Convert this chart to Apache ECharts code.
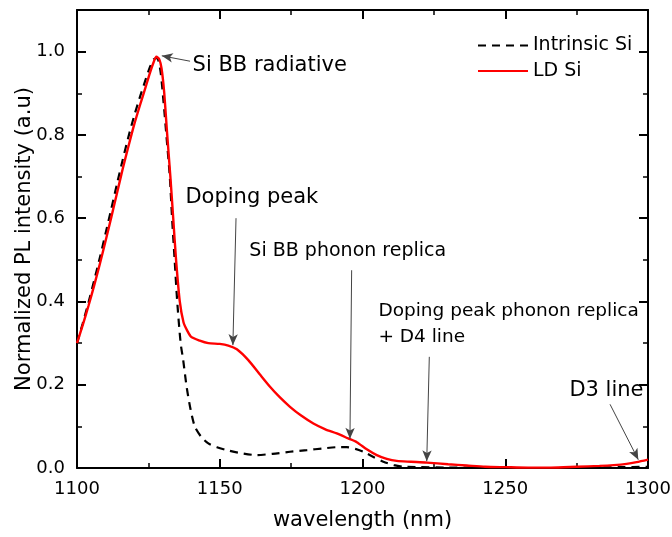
<!DOCTYPE html>
<html>
<head>
<meta charset="utf-8">
<script src="https://cdn.jsdelivr.net/npm/echarts@6/dist/echarts.min.js"></script>
<style>html,body{margin:0;padding:0;background:#fff}#c{width:672px;height:537px}</style>
</head>
<body>
<div id="c"></div>
<script>
// Wavelength (nm) and normalized PL intensity
const ldWave = [1100,1102,1104,1106,1108,1110,1112,1114,1116,1118,1120,1122,1124,1125.5,1126.8,1127.8,1128.8,1129.6,1130.5,1131.6,1132.7,1133.7,1134.7,1136,1137.3,1138.6,1140,1143,1146,1150,1153,1156,1160,1164,1167.6,1171,1174.6,1178.5,1182.8,1187,1191,1195,1198,1201.5,1205,1208.5,1212,1217,1222.5,1230,1236.5,1243,1250,1258,1266,1275,1283,1288,1292.5,1296,1300];
const ldVal  = [0.300,0.343,0.389,0.438,0.490,0.545,0.602,0.660,0.718,0.772,0.824,0.870,0.914,0.948,0.974,0.988,0.982,0.960,0.905,0.800,0.700,0.600,0.500,0.400,0.350,0.330,0.315,0.306,0.300,0.298,0.294,0.285,0.259,0.225,0.195,0.170,0.147,0.126,0.107,0.093,0.083,0.071,0.062,0.045,0.031,0.022,0.017,0.015,0.013,0.009,0.006,0.003,0.002,0.001,0.001,0.003,0.005,0.007,0.010,0.014,0.020];
const inWave = [1100,1102,1104,1106,1108,1110,1112,1114,1116,1118,1120,1122,1124,1125.5,1126.8,1128,1129.2,1130.3,1131.3,1132.5,1133.3,1134.2,1135.1,1136.3,1137.2,1138.4,1139.8,1141.3,1143.5,1146,1149,1152.4,1157,1162.9,1168.5,1174.6,1180.5,1186.3,1191,1194.5,1197.5,1200.3,1204,1207.3,1211,1214.3,1220,1230,1240,1250,1260,1270,1280,1290,1300];
const inVal  = [0.300,0.347,0.397,0.450,0.505,0.563,0.622,0.682,0.740,0.795,0.845,0.890,0.932,0.962,0.981,0.985,0.955,0.880,0.800,0.700,0.600,0.500,0.400,0.300,0.259,0.195,0.140,0.099,0.075,0.059,0.050,0.043,0.036,0.031,0.034,0.039,0.043,0.047,0.050,0.050,0.046,0.039,0.026,0.015,0.007,0.003,0.002,0.001,0.001,0.000,0.000,0.000,0.001,0.002,0.003];
const seriesNames = ['Intrinsic Si','LD Si'];
// Annotation texts (anchor: left edge, vertical middle) in data units
const annTexts = ['Si BB radiative','Doping peak','Si BB phonon replica','Doping peak phonon replica\n+ D4 line','D3 line'];
const annX = [1140.3,1137.8,1160.2,1205.4,1272.3];
const annY = [0.966,0.650,0.520,0.346,0.185];
const annSize = [21,21,19,18.5,21];
// Arrows: tail -> head in data units
const arrowFrom = [[1139.6,0.977],[1155.7,0.600],[1196.2,0.475],[1223.4,0.267],[1286.7,0.153]];
const arrowTo   = [[1129.7,0.990],[1154.6,0.295],[1195.6,0.070],[1222.5,0.016],[1296.6,0.020]];

const FONT = 'DejaVu Sans';
const zip = (a,b) => a.map((v,i)=>[v,b[i]]);

const chart = echarts.init(document.getElementById('c'), null, {renderer:'canvas'});
const axisCommon = {
  type:'value',
  axisLine:{show:true,onZero:false,lineStyle:{color:'#000',width:2}},
  axisTick:{show:true,inside:true,length:9,lineStyle:{color:'#000',width:2}},
  minorTick:{show:true,splitNumber:2,length:5,lineStyle:{color:'#000',width:1.5}},
  splitLine:{show:false},
  minorSplitLine:{show:false}
};
chart.setOption({
  animation:false,
  backgroundColor:'#fff',
  textStyle:{fontFamily:FONT},
  grid:{left:77,right:24,top:10,bottom:69,containLabel:false,outerBoundsMode:'none'},
  legend:{
    data:seriesNames,
    orient:'vertical',
    left:472, top:31,
    itemWidth:50, itemHeight:14, itemGap:6.5,
    itemStyle:{opacity:0,borderWidth:0},
    textStyle:{fontFamily:FONT,fontSize:19,color:'#000'}
  },
  xAxis:[
    Object.assign({}, axisCommon, {
      min:1100,max:1300,interval:50,position:'bottom',
      name:'wavelength (nm)',nameLocation:'middle',nameGap:42,nameMoveOverlap:false,
      nameTextStyle:{fontFamily:FONT,fontSize:21,color:'#000'},
      axisLabel:{margin:12,fontFamily:FONT,fontSize:18,color:'#000',formatter:v=>String(v)}
    }),
    Object.assign({}, axisCommon, {
      min:1100,max:1300,interval:50,position:'top',
      axisLabel:{show:false}
    })
  ],
  yAxis:[
    Object.assign({}, axisCommon, {
      min:0,max:1.1,interval:0.2,position:'left',
      name:'Normalized PL intensity (a.u)',nameLocation:'middle',nameGap:42,nameMoveOverlap:false,
      nameTextStyle:{fontFamily:FONT,fontSize:21,color:'#000'},
      axisLabel:{margin:12,fontFamily:FONT,fontSize:18,color:'#000',
        formatter:v => v>1.05 ? '' : v.toFixed(1)}
    }),
    Object.assign({}, axisCommon, {
      min:0,max:1.1,interval:0.2,position:'right',
      axisLabel:{show:false}
    })
  ],
  series:[
    {
      name:seriesNames[0],type:'line',xAxisIndex:0,yAxisIndex:0,
      data:zip(inWave,inVal),symbol:'none',smooth:0.25,
      lineStyle:{color:'#000',width:2.2,type:[8,6]},itemStyle:{color:'#000'},z:3
    },
    {
      name:seriesNames[1],type:'line',xAxisIndex:0,yAxisIndex:0,
      data:zip(ldWave,ldVal),symbol:'none',smooth:0.25,
      lineStyle:{color:'#ff0000',width:2.4},itemStyle:{color:'#ff0000'},z:4
    },
    {
      name:'annotations',type:'scatter',xAxisIndex:0,yAxisIndex:0,silent:true,
      symbolSize:1,itemStyle:{color:'rgba(0,0,0,0)'},z:5,
      data:annTexts.map((t,i)=>({name:t,value:[annX[i],annY[i]],
        label:{show:true,position:'right',distance:0,formatter:t,opacity:1,
          fontFamily:FONT,fontSize:annSize[i],color:'#000',lineHeight:26,
          align:'left',verticalAlign:'middle'}})),
      markLine:{
        silent:true,animation:false,
        symbolSize:[7,11],
        label:{show:false},
        lineStyle:{color:'#444',width:1,type:'solid'},
        data:arrowFrom.map((f,i)=>[
          {coord:f,symbol:'none'},
          {coord:arrowTo[i],symbol:'arrow'}
        ])
      }
    }
  ]
});
</script>
</body>
</html>
